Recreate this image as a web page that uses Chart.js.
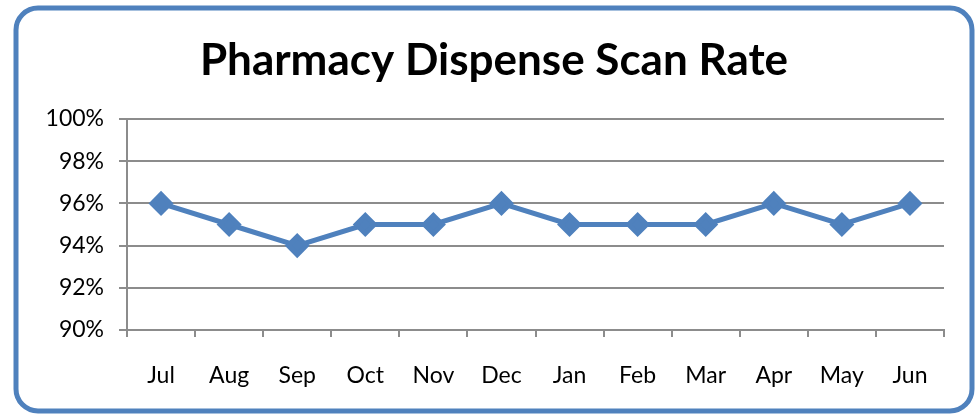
<!DOCTYPE html>
<html>
<head>
<meta charset="utf-8">
<script src="https://cdn.jsdelivr.net/npm/chart.js@4"></script>
<style>
  html, body { margin: 0; padding: 0; background: #fff; }
  #wrap { width: 977px; height: 415px; position: relative; }
</style>
</head>
<body>
<div id="wrap"><canvas id="grafico" width="977" height="415"></canvas></div>
<script>
const meses = ["Jul","Aug","Sep","Oct","Nov","Dec","Jan","Feb","Mar","Apr","May","Jun"];
const taxa = [96,95,94,95,95,96,95,95,95,96,95,96];
const tituloTexto = "Pharmacy Dispense Scan Rate";
const eixoMin = 90, eixoMax = 100, eixoPasso = 2;

const azul = "#4F81BD";
const cinza = "#8c8c8c";

/* moldura arredondada + titulo centrado na moldura */
const moldura = {
  id: "moldura",
  afterDraw(chart){
    const c = chart.ctx;
    c.save();
    c.strokeStyle = azul;
    c.lineWidth = 5;
    c.beginPath();
    c.roundRect(16, 8, 956, 403, 22);
    c.stroke();

    c.fillStyle = "#000";
    c.font = "bold 44px Lato";
    c.textAlign = "center";
    c.textBaseline = "middle";
    c.fillText(tituloTexto, 494, 61);
    c.restore();
  }
};

new Chart(document.getElementById("grafico"),{
  type:"line",
  data:{
    labels:meses,
    datasets:[{
      data:taxa,
      borderColor:azul,
      backgroundColor:azul,
      borderWidth:5,
      pointStyle:"rectRot",
      pointRadius:9,
      pointHoverRadius:9,
      tension:0
    }]
  },
  options:{
    responsive:false,
    animation:false,
    layout:{ padding:{ left:0, right:33, top:119, bottom:0 } },
    plugins:{
      legend:{ display:false },
      tooltip:{ enabled:false },
      title:{ display:false }
    },
    scales:{
      x:{
        offset:true,
        grid:{
          offset:true,
          drawOnChartArea:false,
          color:cinza,
          lineWidth:2,
          tickLength:7
        },
        border:{ color:cinza, width:2 },
        ticks:{
          color:"#000",
          font:{ family:"Lato", size:23 },
          padding:25,
          maxRotation:0
        },
        afterFit(s){ s.height = 85; }
      },
      y:{
        min:eixoMin,
        max:eixoMax,
        grid:{ color:cinza, lineWidth:2, tickLength:8 },
        border:{ color:cinza, width:2 },
        ticks:{
          stepSize:eixoPasso,
          color:"#000",
          font:{ family:"Lato", size:23 },
          padding:15,
          callback:v=>v+"%"
        },
        afterFit(s){ s.width = 127; }
      }
    }
  },
  plugins:[moldura]
});
</script>
</body>
</html>
